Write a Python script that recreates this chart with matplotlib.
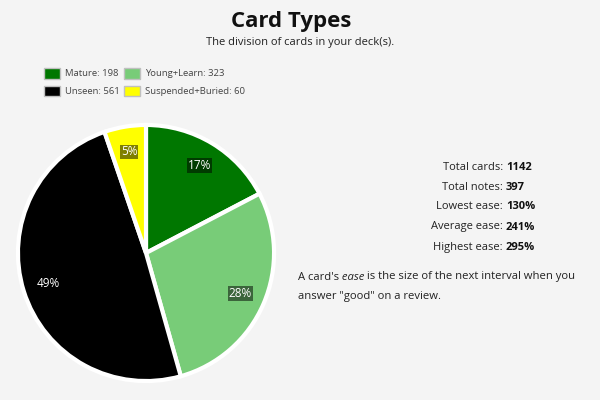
import matplotlib
matplotlib.use("Agg")
import matplotlib.pyplot as plt
from matplotlib.patches import Patch

plt.rcParams["font.family"] = ["Open Sans", "DejaVu Sans"]

# data
labels = ["Mature", "Young+Learn", "Unseen", "Suspended+Buried"]
counts = [198, 323, 561, 60]
colors = ["#007700", "#78cc78", "#000000", "#ffff00"]

stat_names = ["Total cards:", "Total notes:", "Lowest ease:", "Average ease:", "Highest ease:"]
stat_values = ["1142", "397", "130%", "241%", "295%"]

BG = "#f4f4f4"

fig = plt.figure(figsize=(6, 4), dpi=100, facecolor=BG)

fig.text(291 / 600, 1 - 21 / 400, "Card Types", ha="center", va="center",
         fontsize=16, fontweight="bold", color="#111111")
fig.text(0.5, 1 - 43 / 400, "The division of cards in your deck(s).", ha="center",
         va="center", fontsize=8, color="#222222")

# pie, center (146, 253) px, radius 130 px
ax = fig.add_axes([16 / 600, 17 / 400, 260 / 600, 260 / 400])
ax.set_facecolor(BG)
wedges, texts, autotexts = ax.pie(
    counts, colors=colors, startangle=90, counterclock=False, radius=0.985,
    autopct="%.0f%%", pctdistance=0.8,
    wedgeprops=dict(edgecolor="white", linewidth=3),
    textprops=dict(color="white", fontsize=8.5),
)
for t in autotexts:
    t.set_bbox(dict(facecolor="black", alpha=0.5, pad=0.6, edgecolor="none"))
ax.set_xlim(-1.0, 1.0)
ax.set_ylim(-1.0, 1.0)
ax.set_aspect("equal")
ax.axis("off")

# legend (column-wise fill -> reorder to match rows)
handles = [Patch(facecolor=c, edgecolor="#c0c0c0", linewidth=1) for c in colors]
leg_labels = [f"{n}: {v}" for n, v in zip(labels, counts)]
order = [0, 2, 1, 3]
fig.legend([handles[i] for i in order], [leg_labels[i] for i in order],
           loc="upper left", bbox_to_anchor=(44 / 600, 1 - 68 / 400), ncol=2,
           frameon=False, fontsize=6.8, handlelength=1.7, handleheight=1.35,
           handletextpad=0.5, columnspacing=0.5, labelspacing=0.75,
           labelcolor="#444444", borderpad=0, borderaxespad=0)

# stats
for i, (name, val) in enumerate(zip(stat_names, stat_values)):
    y = 1 - (167 + 20 * i) / 400
    fig.text(503 / 600, y, name, ha="right", va="center", fontsize=8, color="#222222")
    fig.text(506 / 600, y, val, ha="left", va="center", fontsize=8,
             fontweight="bold", color="#111111")

t1 = fig.text(298 / 600, 1 - 277 / 400, "A card's", ha="left", va="center",
              fontsize=8.1, color="#222222")
t2 = fig.add_artist(plt.Annotation(" ease", xy=(1, 0), xycoords=t1, va="bottom",
                                   ha="left", fontsize=8.1, color="#222222",
                                   style="italic"))
fig.add_artist(plt.Annotation(" is the size of the next interval when you", xy=(1, 0),
                              xycoords=t2, va="bottom", ha="left", fontsize=8.1,
                              color="#222222"))
fig.text(298 / 600, 1 - 296 / 400, 'answer "good" on a review.', ha="left",
         va="center", fontsize=8.1, color="#222222")

fig.savefig("out.png", dpi=100, facecolor=BG)
